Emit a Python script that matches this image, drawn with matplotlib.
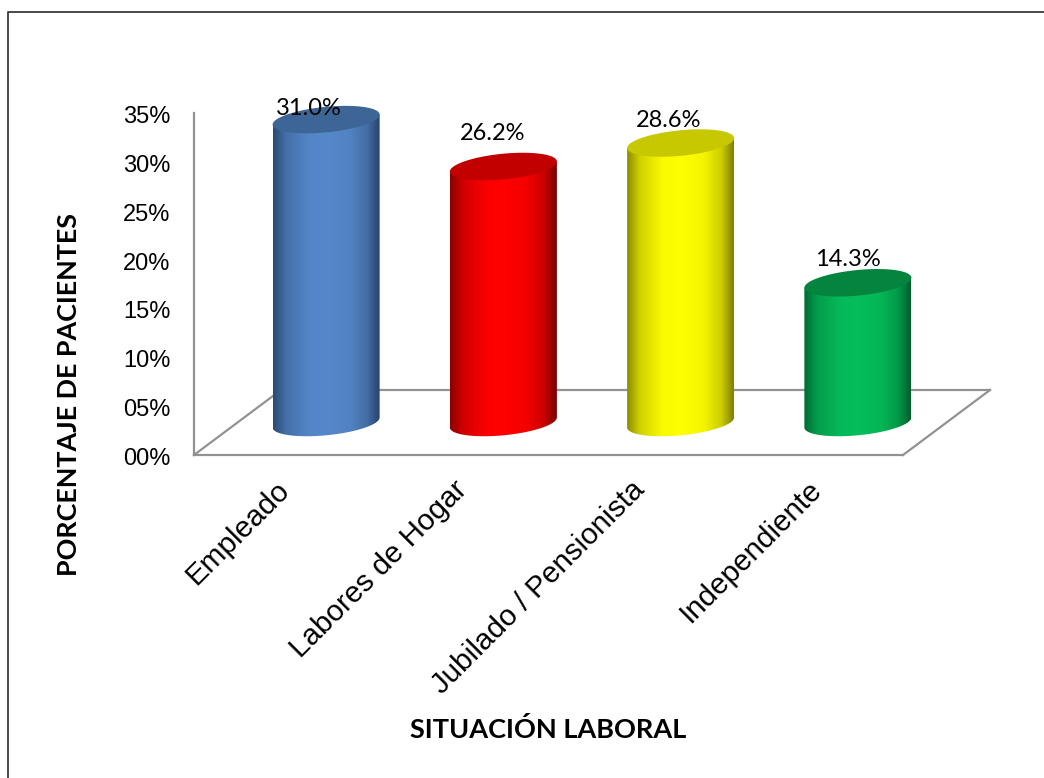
import numpy as np
import matplotlib
matplotlib.use("Agg")
import matplotlib.pyplot as plt
from matplotlib.colors import LinearSegmentedColormap, to_rgb
from matplotlib.lines import Line2D
from matplotlib.patches import PathPatch
from matplotlib.path import Path
from matplotlib.transforms import Affine2D, ScaledTranslation

# ---- data ----
categories = ["Empleado", "Labores de Hogar", "Jubilado / Pensionista", "Independiente"]
values = [31.0, 26.2, 28.6, 14.3]
value_labels = ["31.0%", "26.2%", "28.6%", "14.3%"]
y_ticks = [0, 5, 10, 15, 20, 25, 30, 35]
y_tick_labels = ["00%", "05%", "10%", "15%", "20%", "25%", "30%", "35%"]

# ---- style ----
edge_left = ["#2b4a73", "#8a0000", "#8c8c00", "#006a33"]
body = ["#5588cb", "#ff0000", "#ffff00", "#05bd5b"]
edge_right = ["#27436a", "#760000", "#7f7f00", "#005f2c"]
cap = ["#3d6696", "#c30000", "#c8c800", "#04843c"]
label_offsets = [(-17, 11), (-11, 33), (-12, 23), (-10, 23)]  # pixels from cap centre
DEPTH = (87, 65)       # floor depth in pixels
A, B, K = 53.5, 12.8, 5.0  # cap ellipse half width, half height, tilt

W, H = 1044, 778
fig = plt.figure(figsize=(W / 100, H / 100), dpi=100, facecolor="white")
ax = fig.add_axes([194 / W, (H - 455) / H, 709 / W, 342 / H])
ax.set_xlim(-0.5, 3.5)
ax.set_ylim(0, 35)
ax.patch.set_alpha(0)

GREY = "#929292"
for side in ("top", "right"):
    ax.spines[side].set_visible(False)
for side in ("left", "bottom"):
    ax.spines[side].set_color(GREY)
    ax.spines[side].set_linewidth(1.6)

# floor of the 3D box
back = ax.transData + Affine2D().translate(*DEPTH)
x0, x1 = ax.get_xlim()
ax.plot([x0, x1], [0, 0], transform=back, color=GREY, lw=1.6, clip_on=False, zorder=1)
for xc in (x0, x1):
    ax.add_line(Line2D([0, DEPTH[0]], [0, DEPTH[1]], color=GREY, lw=1.6, clip_on=False, zorder=1,
                       transform=ScaledTranslation(xc, 0, ax.transData)))

# cylinders
t_low = np.linspace(np.pi, 2 * np.pi, 80)
t_all = np.linspace(0, 2 * np.pi, 160)


def ell(t):
    return A * np.cos(t), B * np.sin(t) + K * np.cos(t)


def mix(a, b, f):
    a, b = np.array(to_rgb(a)), np.array(to_rgb(b))
    return tuple(a + (b - a) * f)


for i, v in enumerate(values):
    base_at = ScaledTranslation(i, 0, ax.transData) + Affine2D().translate(DEPTH[0] / 2, DEPTH[1] / 2)
    top_at = ScaledTranslation(i, v, ax.transData) + Affine2D().translate(DEPTH[0] / 2, DEPTH[1] / 2)
    height = ax.transData.transform((0, v))[1] - ax.transData.transform((0, 0))[1]

    bx, by = ell(t_low)
    sx = np.r_[bx, A, -A, -A]
    sy = np.r_[by, height + K, height - K, by[0]]
    clip = PathPatch(Path(np.c_[sx, sy]), transform=base_at, fc="none", ec="none", clip_on=False)
    ax.add_patch(clip)

    cmap = LinearSegmentedColormap.from_list(
        f"c{i}",
        [(0, edge_left[i]),
         (0.12, mix(edge_left[i], body[i], 0.6)),
         (0.33, mix(edge_left[i], body[i], 0.95)),
         (0.5, body[i]),
         (0.72, mix(edge_right[i], body[i], 0.92)),
         (0.88, mix(edge_right[i], body[i], 0.62)),
         (1, edge_right[i])])
    grad = np.linspace(0, 1, 256)[None, :]
    im = ax.imshow(grad, cmap=cmap, aspect="auto", interpolation="bilinear", zorder=3,
                   extent=(-A, A, -B - K - 2, height + K + 2))
    im.set_transform(base_at)
    im.set_clip_box(fig.bbox)
    im.set_clip_path(clip)

    cx, cy = ell(t_all)
    ax.add_patch(PathPatch(Path(np.c_[cx, cy]), transform=top_at, fc=cap[i], ec="none",
                           zorder=4, clip_on=False))

    ox, oy = label_offsets[i]
    ax.text(ox, oy, value_labels[i], transform=top_at, ha="center", va="center",
            family="Lato", fontsize=17, color="black", zorder=6, clip_on=False)

ax.set_xlim(x0, x1)
ax.set_ylim(0, 35)

ax.set_yticks(y_ticks, y_tick_labels, family="Liberation Sans", fontsize=17)
ax.tick_params(axis="y", length=0, pad=17)
ax.set_xticks(range(len(categories)), categories, family="Liberation Sans", fontsize=21.3,
              rotation=45, ha="right", rotation_mode="anchor")
ax.tick_params(axis="x", length=0, pad=15)
for lab in ax.get_xticklabels():
    lab.set_transform(lab.get_transform() + Affine2D().translate(-7, 0))
for lab in ax.get_yticklabels():
    lab.set_transform(lab.get_transform() + Affine2D().translate(0, -1.5))

fig.text(69 / W, 1 - 395 / H, "PORCENTAJE DE PACIENTES", rotation=90, ha="center", va="center",
         family="Lato", weight="bold", fontsize=19.4)
fig.text(548 / W, 1 - 729 / H, "SITUACIÓN LABORAL", ha="center", va="center",
         family="Lato", weight="bold", fontsize=19.5)

# outer frame
fig.add_artist(Line2D([8 / W, 8 / W, 1], [0, 1 - 11.5 / H, 1 - 11.5 / H], color="#3a3a3a", lw=1.3,
                      transform=fig.transFigure))

fig.savefig("out.png", dpi=100)
